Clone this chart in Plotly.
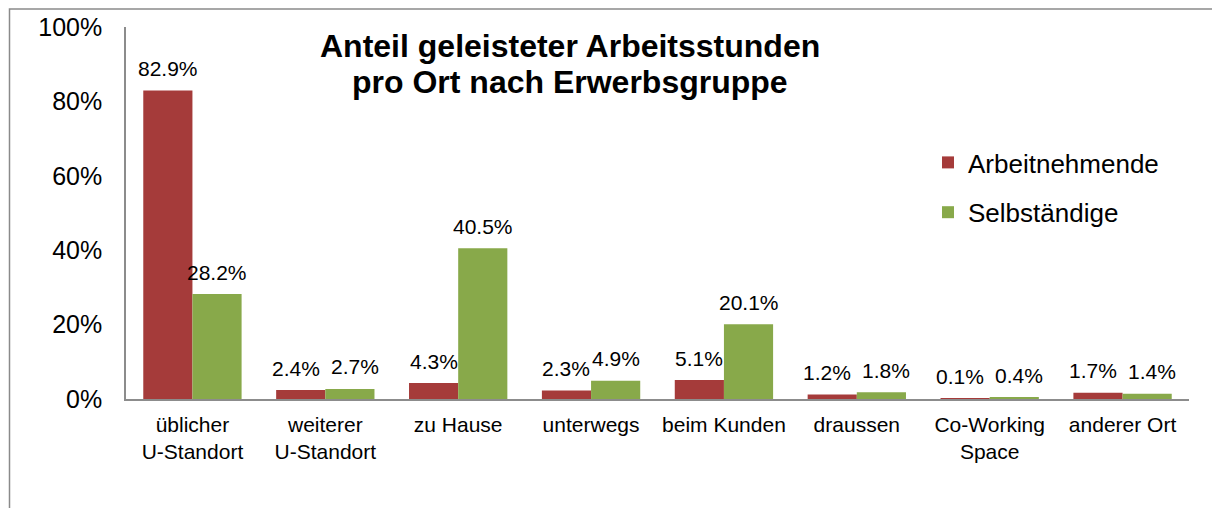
import plotly.graph_objects as go

categories = ["üblicher<br>U-Standort", "weiterer<br>U-Standort", "zu Hause", "unterwegs",
              "beim Kunden", "draussen", "Co-Working<br>Space", "anderer Ort"]
arbeitnehmende = [0.829, 0.024, 0.043, 0.023, 0.051, 0.012, 0.001, 0.017]
selbstaendige = [0.282, 0.027, 0.405, 0.049, 0.201, 0.018, 0.004, 0.014]
series_names = ["Arbeitnehmende", "Selbständige"]
title_lines = ["Anteil geleisteter Arbeitsstunden", "pro Ort nach Erwerbsgruppe"]
y_ticks = [0, 0.2, 0.4, 0.6, 0.8, 1.0]
y_ticklabels = ["0%", "20%", "40%", "60%", "80%", "100%"]

# page is shown with an 8px body margin
W, H = 1204, 500
ML, MR, MT, MB = 118, 23, 19, 109
PW = W - ML - MR
PH = H - MT - MB
# page coordinates of plot area
PL, PB = ML + 8, MT + 8 + PH
FONT = "Arial, 'Liberation Sans', sans-serif"

red = "#A53B3A"
green = "#88A94A"

fig = go.Figure()
fig.add_trace(go.Bar(x=categories, y=arbeitnehmende, name=series_names[0],
                     marker=dict(color=red, line=dict(width=0)), legendgroup="a"))
fig.add_trace(go.Bar(x=categories, y=selbstaendige, name=series_names[1],
                     marker=dict(color=green, line=dict(width=0)), legendgroup="b"))

bargap = 0.26
cat_w = PW / len(categories)
bar_w = cat_w * (1 - bargap) / 2
annotations = []
for c, va, vs in zip(categories, arbeitnehmende, selbstaendige):
    # labels of two low bars sit at similar heights: spread them a little
    extra = 5 if max(va, vs) < 0.1 and abs(va - vs) < 0.02 else 0
    for v, sh in ((va, -bar_w / 2 - extra), (vs, bar_w / 2 + extra)):
        annotations.append(dict(x=c, y=v, xref="x", yref="y", text=f"{v*100:.1f}%",
                                showarrow=False, xshift=sh, yshift=22, yanchor="middle",
                                font=dict(size=21, color="#000000", family=FONT)))

for line, py in zip(title_lines, (46, 82)):
    annotations.append(dict(xref="paper", yref="paper", x=(570 - PL) / PW, y=(PB - py) / PH,
                            text=f"<b>{line}</b>", showarrow=False,
                            xanchor="center", yanchor="middle",
                            font=dict(size=32, color="#000000", family=FONT)))

fig.update_layout(
    width=W, height=H,
    margin=dict(l=ML, r=MR, t=MT, b=MB, autoexpand=False),
    paper_bgcolor="white", plot_bgcolor="white",
    barmode="group", bargap=bargap, bargroupgap=0,
    font=dict(family=FONT, color="#000000"),
    showlegend=True,
    legend=dict(x=(928 - PL) / PW, y=(PB - 139) / PH, xanchor="left", yanchor="top",
                font=dict(size=26, family=FONT), traceorder="grouped", tracegroupgap=13,
                bgcolor="rgba(0,0,0,0)"),
    annotations=annotations,
    shapes=[dict(type="rect", xref="paper", yref="paper",
                 x0=(9.5 - PL) / PW, x1=(1240 - PL) / PW,
                 y0=(PB - 560) / PH, y1=(PB - 9) / PH,
                 line=dict(color="#8A8A8A", width=1.5), layer="below")],
)
fig.update_yaxes(range=[0, 1], tickvals=y_ticks, ticktext=y_ticklabels, showgrid=False,
                 showline=True, linecolor="#8C8C8C", linewidth=1.5, zeroline=False,
                 automargin=False, ticks="", ticklabelstandoff=17,
                 tickfont=dict(size=25, family=FONT))
fig.update_xaxes(showline=True, linecolor="#8C8C8C", linewidth=1.5, ticks="",
                 automargin=False, ticklabelstandoff=6,
                 tickfont=dict(size=21, family=FONT))

fig.write_html("out.html")
